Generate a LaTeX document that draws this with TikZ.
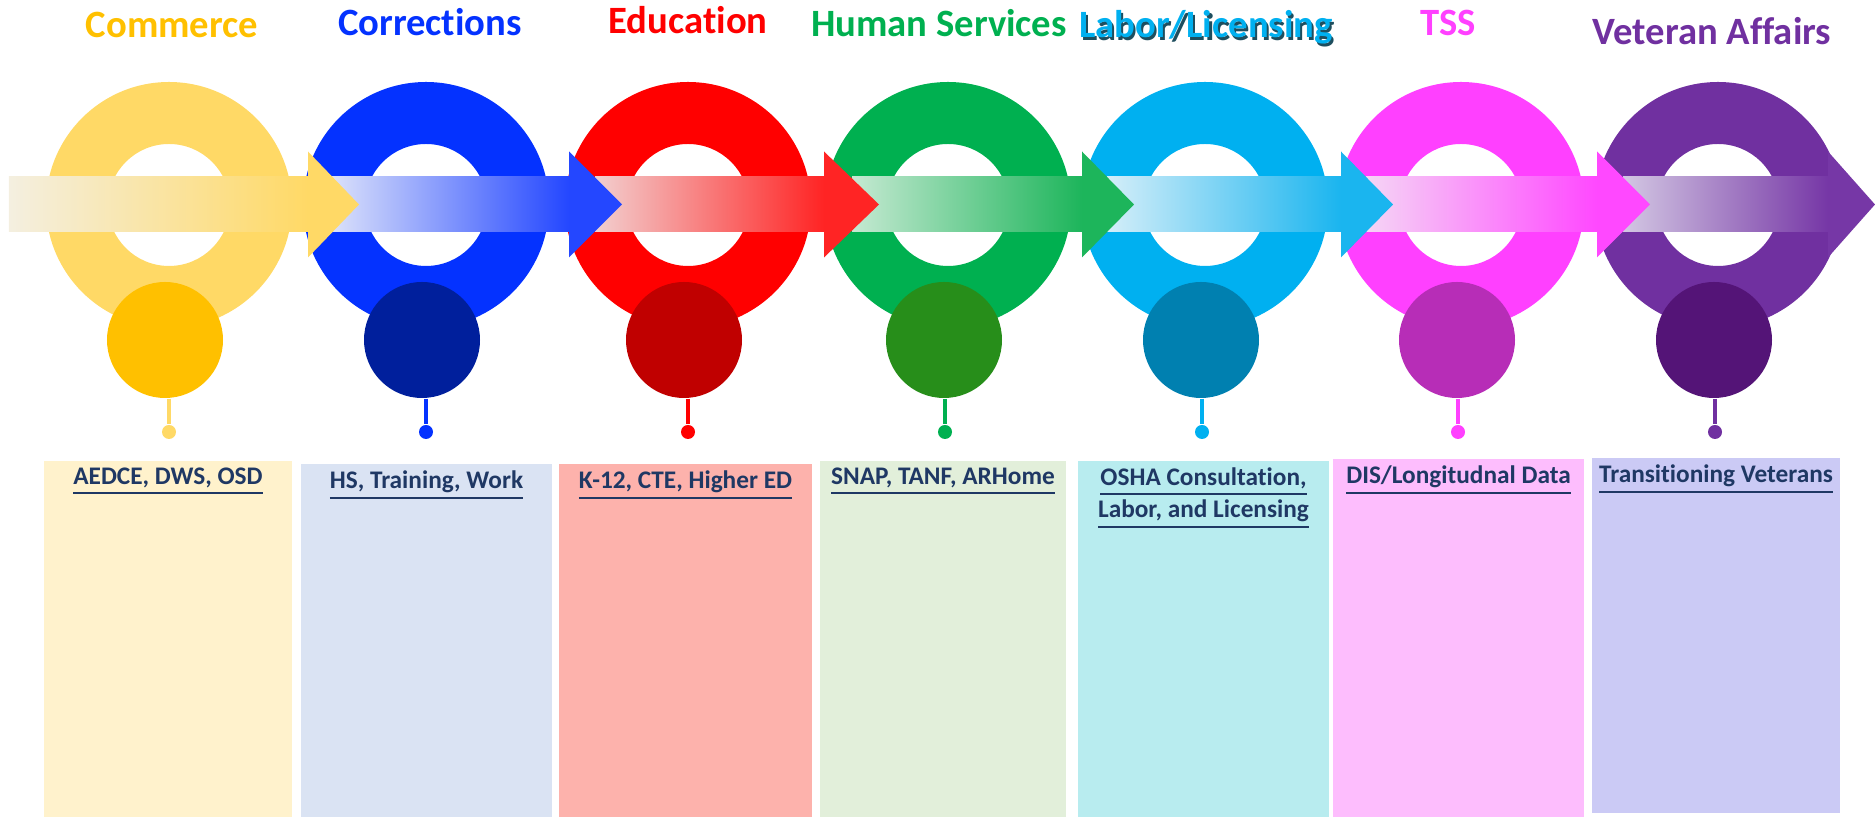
\documentclass[tikz,border=0pt]{standalone}
\usepackage{fontspec}
\setmainfont{Carlito}[Ligatures=NoCommon]
\usepackage{tikz}
\usetikzlibrary{positioning}
\definecolor{comRing}{HTML}{FFD966}
\definecolor{comDark}{HTML}{FFC000}
\definecolor{comFade}{HTML}{F4EFE0}
\definecolor{comBox}{HTML}{FFF2CC}
\definecolor{corRing}{HTML}{0432FF}
\definecolor{corDark}{HTML}{001F9C}
\definecolor{corFade}{HTML}{DCE2FA}
\definecolor{corArrow}{HTML}{2447FF}
\definecolor{corBox}{HTML}{DAE3F3}
\definecolor{eduRing}{HTML}{FF0000}
\definecolor{eduDark}{HTML}{C00000}
\definecolor{eduFade}{HTML}{F2CFCF}
\definecolor{eduArrow}{HTML}{FF2424}
\definecolor{eduBox}{HTML}{FDB2AC}
\definecolor{husRing}{HTML}{00B050}
\definecolor{husDark}{HTML}{278E1A}
\definecolor{husFade}{HTML}{C5E9D2}
\definecolor{husArrow}{HTML}{1DB55B}
\definecolor{husBox}{HTML}{E2EFDA}
\definecolor{labRing}{HTML}{00B0F0}
\definecolor{labDark}{HTML}{0080B0}
\definecolor{labFade}{HTML}{D4EEF9}
\definecolor{labArrow}{HTML}{1AB5EF}
\definecolor{labShadow}{HTML}{1E4E5E}
\definecolor{labBox}{HTML}{B8ECEF}
\definecolor{tssRing}{HTML}{FF40FF}
\definecolor{tssDark}{HTML}{B72DB7}
\definecolor{tssFade}{HTML}{F5D5F5}
\definecolor{tssArrow}{HTML}{FF48FF}
\definecolor{tssBox}{HTML}{FDBDFD}
\definecolor{vetRing}{HTML}{7030A0}
\definecolor{vetDark}{HTML}{541477}
\definecolor{vetFade}{HTML}{D3C7E3}
\definecolor{vetArrow}{HTML}{7637A6}
\definecolor{vetBox}{HTML}{CBCAF5}
\definecolor{labelNavy}{HTML}{1F3864}
\newcommand{\shadowtext}[2]{\makebox[0pt][l]{\hspace{0.6pt}\raisebox{-0.8pt}{\textcolor{#1}{#2}}}#2}

\begin{document}
\begin{tikzpicture}[x=1cm,y=1cm,
    headline/.style={font=\bfseries\fontsize{11}{13}\selectfont, anchor=base, inner sep=0pt},
    blob/.style={circle, minimum size=1.16cm, inner sep=0pt},
    tipdot/.style={circle, minimum size=0.14cm, inner sep=0pt},
    stemline/.style={line width=1.1pt},
    panel/.style={inner sep=0pt, minimum width=2.5cm},
    boxlabel/.style={font=\bfseries\fontsize{7.2}{9.1}\selectfont, text=labelNavy, align=center, inner sep=0pt}]

    \useasboundingbox (0,0) rectangle (18.75,8.17);

    \fill[comRing, even odd rule] (1.69,6.12) circle (1.23) (1.69,6.12) circle (0.61);
    \fill[corRing, even odd rule] (4.26,6.12) circle (1.23) (4.26,6.12) circle (0.61);
    \fill[eduRing, even odd rule] (6.88,6.12) circle (1.23) (6.88,6.12) circle (0.61);
    \fill[husRing, even odd rule] (9.48,6.12) circle (1.23) (9.48,6.12) circle (0.61);
    \fill[labRing, even odd rule] (12.05,6.12) circle (1.23) (12.05,6.12) circle (0.61);
    \fill[tssRing, even odd rule] (14.61,6.12) circle (1.23) (14.61,6.12) circle (0.61);
    \fill[vetRing, even odd rule] (17.18,6.12) circle (1.23) (17.18,6.12) circle (0.61);

    \shade[left color=vetFade, right color=vetArrow] (16.23,5.85) rectangle (18.28,6.40);
    \fill[vetArrow] (18.28,6.655) -- (18.75,6.125) -- (18.28,5.595) -- cycle;
    \shade[left color=tssFade, right color=tssArrow] (13.66,5.85) rectangle (15.97,6.40);
    \fill[tssArrow] (15.97,6.655) -- (16.50,6.125) -- (15.97,5.595) -- cycle;
    \shade[left color=labFade, right color=labArrow] (11.07,5.85) rectangle (13.41,6.40);
    \fill[labArrow] (13.41,6.655) -- (13.93,6.125) -- (13.41,5.595) -- cycle;
    \shade[left color=husFade, right color=husArrow] (8.52,5.85) rectangle (10.82,6.40);
    \fill[husArrow] (10.82,6.655) -- (11.34,6.125) -- (10.82,5.595) -- cycle;
    \shade[left color=eduFade, right color=eduArrow] (5.95,5.85) rectangle (8.24,6.40);
    \fill[eduArrow] (8.24,6.655) -- (8.79,6.125) -- (8.24,5.595) -- cycle;
    \shade[left color=corFade, right color=corArrow] (3.30,5.85) rectangle (5.69,6.40);
    \fill[corArrow] (5.69,6.655) -- (6.22,6.125) -- (5.69,5.595) -- cycle;
    \shade[left color=comFade, right color=comRing] (0.09,5.85) rectangle (3.08,6.40);
    \fill[comRing] (3.08,6.655) -- (3.59,6.125) -- (3.08,5.595) -- cycle;

    \node[blob, fill=comDark] (c1) at (1.65,4.77) {};
    \node[blob, fill=corDark] (c2) at (4.22,4.77) {};
    \node[blob, fill=eduDark] (c3) at (6.84,4.77) {};
    \node[blob, fill=husDark] (c4) at (9.44,4.77) {};
    \node[blob, fill=labDark] (c5) at (12.01,4.77) {};
    \node[blob, fill=tssDark] (c6) at (14.57,4.77) {};
    \node[blob, fill=vetDark] (c7) at (17.14,4.77) {};

    \node[tipdot, fill=comRing] (d1) at (1.69,3.85) {};
    \node[tipdot, fill=corRing] (d2) at (4.26,3.85) {};
    \node[tipdot, fill=eduRing] (d3) at (6.88,3.85) {};
    \node[tipdot, fill=husRing] (d4) at (9.45,3.85) {};
    \node[tipdot, fill=labRing] (d5) at (12.02,3.85) {};
    \node[tipdot, fill=tssRing] (d6) at (14.58,3.85) {};
    \node[tipdot, fill=vetRing] (d7) at (17.15,3.85) {};
    \draw[stemline, comRing] (c1.south -| d1) -- (d1);
    \draw[stemline, corRing] (c2.south -| d2) -- (d2);
    \draw[stemline, eduRing] (c3.south -| d3) -- (d3);
    \draw[stemline, husRing] (c4.south -| d4) -- (d4);
    \draw[stemline, labRing] (c5.south -| d5) -- (d5);
    \draw[stemline, tssRing] (c6.south -| d6) -- (d6);
    \draw[stemline, vetRing] (c7.south -| d7) -- (d7);

    \node[headline, text=comDark] (t1) at (1.72,7.79) {Commerce};
    \node[headline, text=corRing] (t2) at (4.30,7.81) {Corrections};
    \node[headline, text=eduRing] (t3) at (6.88,7.83) {Education};
    \node[headline, text=husRing] (t4) at (9.39,7.80) {Human Services};
    \node[headline, text=labRing] (t5) at (12.06,7.79) {\shadowtext{labShadow}{Labor/Licensing}};
    \node[headline, text=tssRing] (t6) at (14.48,7.81) {TSS};
    \node[headline, text=vetRing] (t7) at (17.12,7.72) {Veteran Affairs};

    \node[panel, fill=comBox, minimum width=2.48cm, minimum height=3.56cm] (box1) at (1.68,1.78) {};
    \node[panel, fill=corBox, minimum width=2.51cm, minimum height=3.53cm] (box2) at (4.265,1.765) {};
    \node[panel, fill=eduBox, minimum width=2.53cm, minimum height=3.53cm] (box3) at (6.855,1.765) {};
    \node[panel, fill=husBox, minimum width=2.46cm, minimum height=3.56cm] (box4) at (9.43,1.78) {};
    \node[panel, fill=labBox, minimum width=2.51cm, minimum height=3.56cm] (box5) at (12.035,1.78) {};
    \node[panel, fill=tssBox, minimum width=2.51cm, minimum height=3.58cm] (box6) at (14.585,1.79) {};
    \node[panel, fill=vetBox, minimum width=2.48cm, minimum height=3.55cm] (box7) at (17.16,1.815) {};

    \node[boxlabel, below=0.07cm of box1.north] (lab1) {\underline{AEDCE, DWS, OSD}};
    \node[boxlabel, below=0.07cm of box2.north] (lab2) {\underline{HS, Training, Work}};
    \node[boxlabel, below=0.07cm of box3.north] (lab3) {\underline{K-12, CTE, Higher ED}};
    \node[boxlabel, below=0.07cm of box4.north] (lab4) {\underline{SNAP, TANF, ARHome}};
    \node[boxlabel, below=0.07cm of box5.north] (lab5) {\underline{OSHA Consultation,}\\\underline{Labor, and Licensing}};
    \node[boxlabel, below=0.07cm of box6.north] (lab6) {\underline{DIS/Longitudnal Data}};
    \node[boxlabel, below=0.07cm of box7.north] (lab7) {\underline{Transitioning Veterans}};
\end{tikzpicture}
\end{document}
